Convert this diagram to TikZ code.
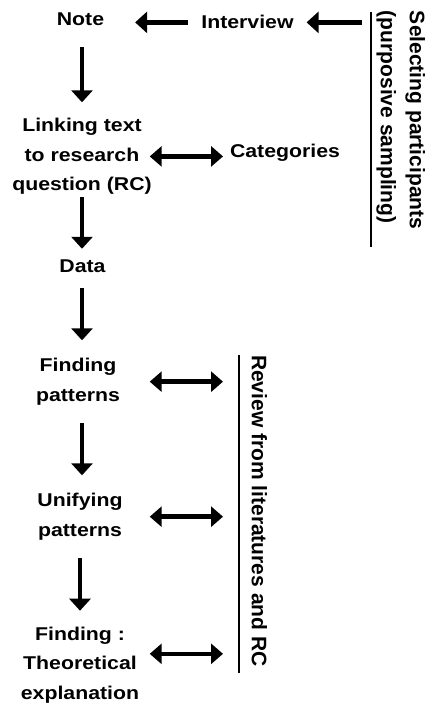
\documentclass[tikz,border=0pt]{standalone}
\usepackage{fontspec}
\usepackage{tikz}
\usetikzlibrary{arrows.meta}
\newfontfamily\flowfont{Liberation Sans}[FakeStretch=1.15]
\newfontfamily\sidefont{Liberation Sans}

\begin{document}
\begin{tikzpicture}[x=1pt,y=-1pt,
    txt/.style={font=\flowfont\bfseries\fontsize{18.5}{29.5}\selectfont, inner sep=0pt, outer sep=0pt, align=center},
    side/.style={font=\sidefont\bfseries\fontsize{21}{29}\selectfont, inner sep=0pt, outer sep=0pt, rotate=-90, anchor=north west, align=left},
    arr/.style={line width=4.5pt, -{Triangle[length=12pt,width=21pt]}, shorten <=20pt, shorten >=16pt},
    dbl/.style={line width=4.5pt, {Triangle[length=12pt,width=20pt]}-{Triangle[length=12pt,width=20pt]}, shorten <=-2pt, shorten >=16pt},
    bar/.style={line width=1.6pt}]
    \useasboundingbox (0,0) rectangle (429,703);
    % main column
    \node[txt, anchor=base] (note) at (80.5,26) {Note};
    \node[txt, anchor=base] (interview) at (247.5,29) {Interview};
    \node[txt, anchor=north] (link) at (82,118.3) {Linking text\\to research\\question (RC)};
    \node[txt, anchor=base] (cat) at (285,158) {Categories};
    \node[txt, anchor=base] (data) at (82.5,272) {Data};
    \node[txt, anchor=north] (find) at (78,358.3) {Finding\\patterns};
    \node[txt, anchor=north] (unify) at (80,493.3) {Unifying\\patterns};
    \node[txt, anchor=north] (result) at (80,626.7) {Finding :\\Theoretical\\explanation};
    % side labels
    \node[side] (select) at (425,11) {Selecting participants\\(purposive sampling)};
    \node[side] (review) at (267,355) {Review from literatures and RC};
    \coordinate (selbar top) at (371,12);
    \coordinate (selbar end) at (371,247);
    \coordinate (revbar top) at (239,355);
    \coordinate (revbar end) at (239,673);
    \draw[bar] (selbar top) -- (selbar end);
    \draw[bar] (revbar top) -- (revbar end);
    % arrows
    \draw[arr, shorten <=9pt, shorten >=13pt] (interview.east -| selbar top) -- (interview.east);
    \draw[arr, shorten <=13.5pt, shorten >=31pt] (interview.west) -- (interview.west -| note.east);
    \draw[arr, shorten <=21pt] (note.south -| link.south) -- (link.north);
    \draw[arr, shorten <=2.5pt, shorten >=10.5pt] (link.south) -- (data.north -| link.south);
    \draw[arr, shorten <=16pt, shorten >=18pt] (data.south -| link.south) -- (find.north -| link.south);
    \draw[arr, shorten <=18pt, shorten >=18pt] (find.south -| link.south) -- (unify.north -| link.south);
    \draw[arr, shorten <=18pt, shorten >=16pt] (unify.south) -- (unify.south |- result.north);
    \draw[dbl, shorten >=7pt] (link.east) -- (link.east -| cat.west);
    \draw[dbl] (find -| link.east) -- (find -| revbar top);
    \draw[dbl] (unify -| link.east) -- (unify -| revbar top);
    \draw[dbl] ([yshift=11pt]result.east -| link.east) -- ([yshift=11pt]result.east -| revbar top);
\end{tikzpicture}
\end{document}
